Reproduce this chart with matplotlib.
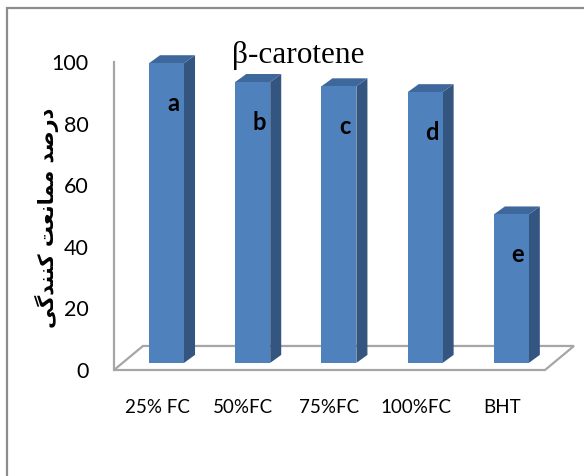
"""beta-carotene inhibition bars, Excel-style 3D look."""
import numpy as np
import matplotlib
matplotlib.use('Agg')
import matplotlib.pyplot as plt
from matplotlib.patches import Polygon, Rectangle

categories = ['25% FC', '50%FC', '75%FC', '100%FC', 'BHT']
values = [97.3, 91.2, 89.8, 87.9, 48.2]
letters = ['a', 'b', 'c', 'd', 'e']
yticks = [0, 20, 40, 60, 80, 100]
title = 'β-carotene'
ylabel = 'درصد ممانعت کنندگی'
# matplotlib does no Arabic shaping / bidi, so give it the shaped glyphs in visual order
ylabel_shaped = ('\uFBFD\uFB94\uFEAA\uFEE8\uFEE8\uFB90 '
                 '\uFE96\uFECC\uFEE7\uFE8E\uFEE4\uFEE3 '
                 '\uFEAA\uFEBB\uFEAD\uFEA9')

W, H = 584, 476
fig = plt.figure(figsize=(W / 100, H / 100), dpi=100)
ax = fig.add_axes([114 / W, 1 - 370 / H, 431 / W, 308 / H])
ax.set_xlim(-0.5, 4.5); ax.set_ylim(0, 100)

# depth geometry in data units
fdx, fdy = 0.336, 7.8    # floor depth
bdx, bdy = 0.109, 2.3    # bar set back from front plane
sdx, sdy = 0.128, 2.6    # bar thickness
bw = 0.406
c_front, c_side, c_top = '#4F81BD', '#34557F', '#3E679B'
grey = '#A6A6A6'

x = np.arange(len(categories))
ax.add_patch(Polygon([(-0.5, 0), (4.5, 0), (4.5 + fdx, fdy), (-0.5 + fdx, fdy)],
                     closed=True, fill=False, ec=grey, lw=1.6, zorder=1, clip_on=False))
bars = ax.bar(x + bdx, values, width=bw, bottom=bdy, color=c_front, zorder=3, clip_on=False)
for b, lab in zip(bars, letters):
    x0 = b.get_x(); x1 = x0 + b.get_width()
    y0 = b.get_y(); y1 = y0 + b.get_height()
    ax.add_patch(Polygon([(x1, y0), (x1, y1), (x1 + sdx, y1 + sdy), (x1 + sdx, y0 + sdy)],
                         fc=c_side, ec='none', zorder=2, clip_on=False))
    ax.add_patch(Polygon([(x0, y1), (x1, y1), (x1 + sdx, y1 + sdy), (x0 + sdx, y1 + sdy)],
                         fc=c_top, ec='none', zorder=2, clip_on=False))
    ax.text(x0 + bw / 2 + 0.075, y1 - 13, lab, ha='center', va='center',
            family='Lato', fontsize=17, fontweight='bold', color='black', zorder=5)

for s in ['top', 'right', 'bottom']:
    ax.spines[s].set_visible(False)
ax.spines['left'].set_color(grey); ax.spines['left'].set_linewidth(1.6)
ax.set_yticks(yticks)
ax.set_yticklabels([str(t) for t in yticks], family='Lato', fontsize=15.5)
ax.set_xticks(x)
ax.set_xticklabels(categories, family='Lato', fontsize=13.5)
ax.tick_params(axis='y', length=0, pad=18.5)
ax.tick_params(axis='x', length=0, pad=21)
ax.patch.set_visible(False)

fig.text(298.5 / W, 1 - 63 / H, title, ha='center', va='baseline',
         family='Liberation Serif', fontsize=22.5)
fig.text(47 / W, 1 - 218 / H, ylabel_shaped, rotation=90, ha='center', va='center',
         family='DejaVu Sans', fontsize=15, fontweight='bold')

# outer chart frame (right/bottom edges fall outside the picture)
fig.add_artist(Rectangle((7 / W, -0.1), 1.1, 1.1 - 8 / H, transform=fig.transFigure,
                         fill=False, ec='#8C8C8C', lw=1.6))

fig.savefig('out.png', dpi=100)
print('wrote out.png')
